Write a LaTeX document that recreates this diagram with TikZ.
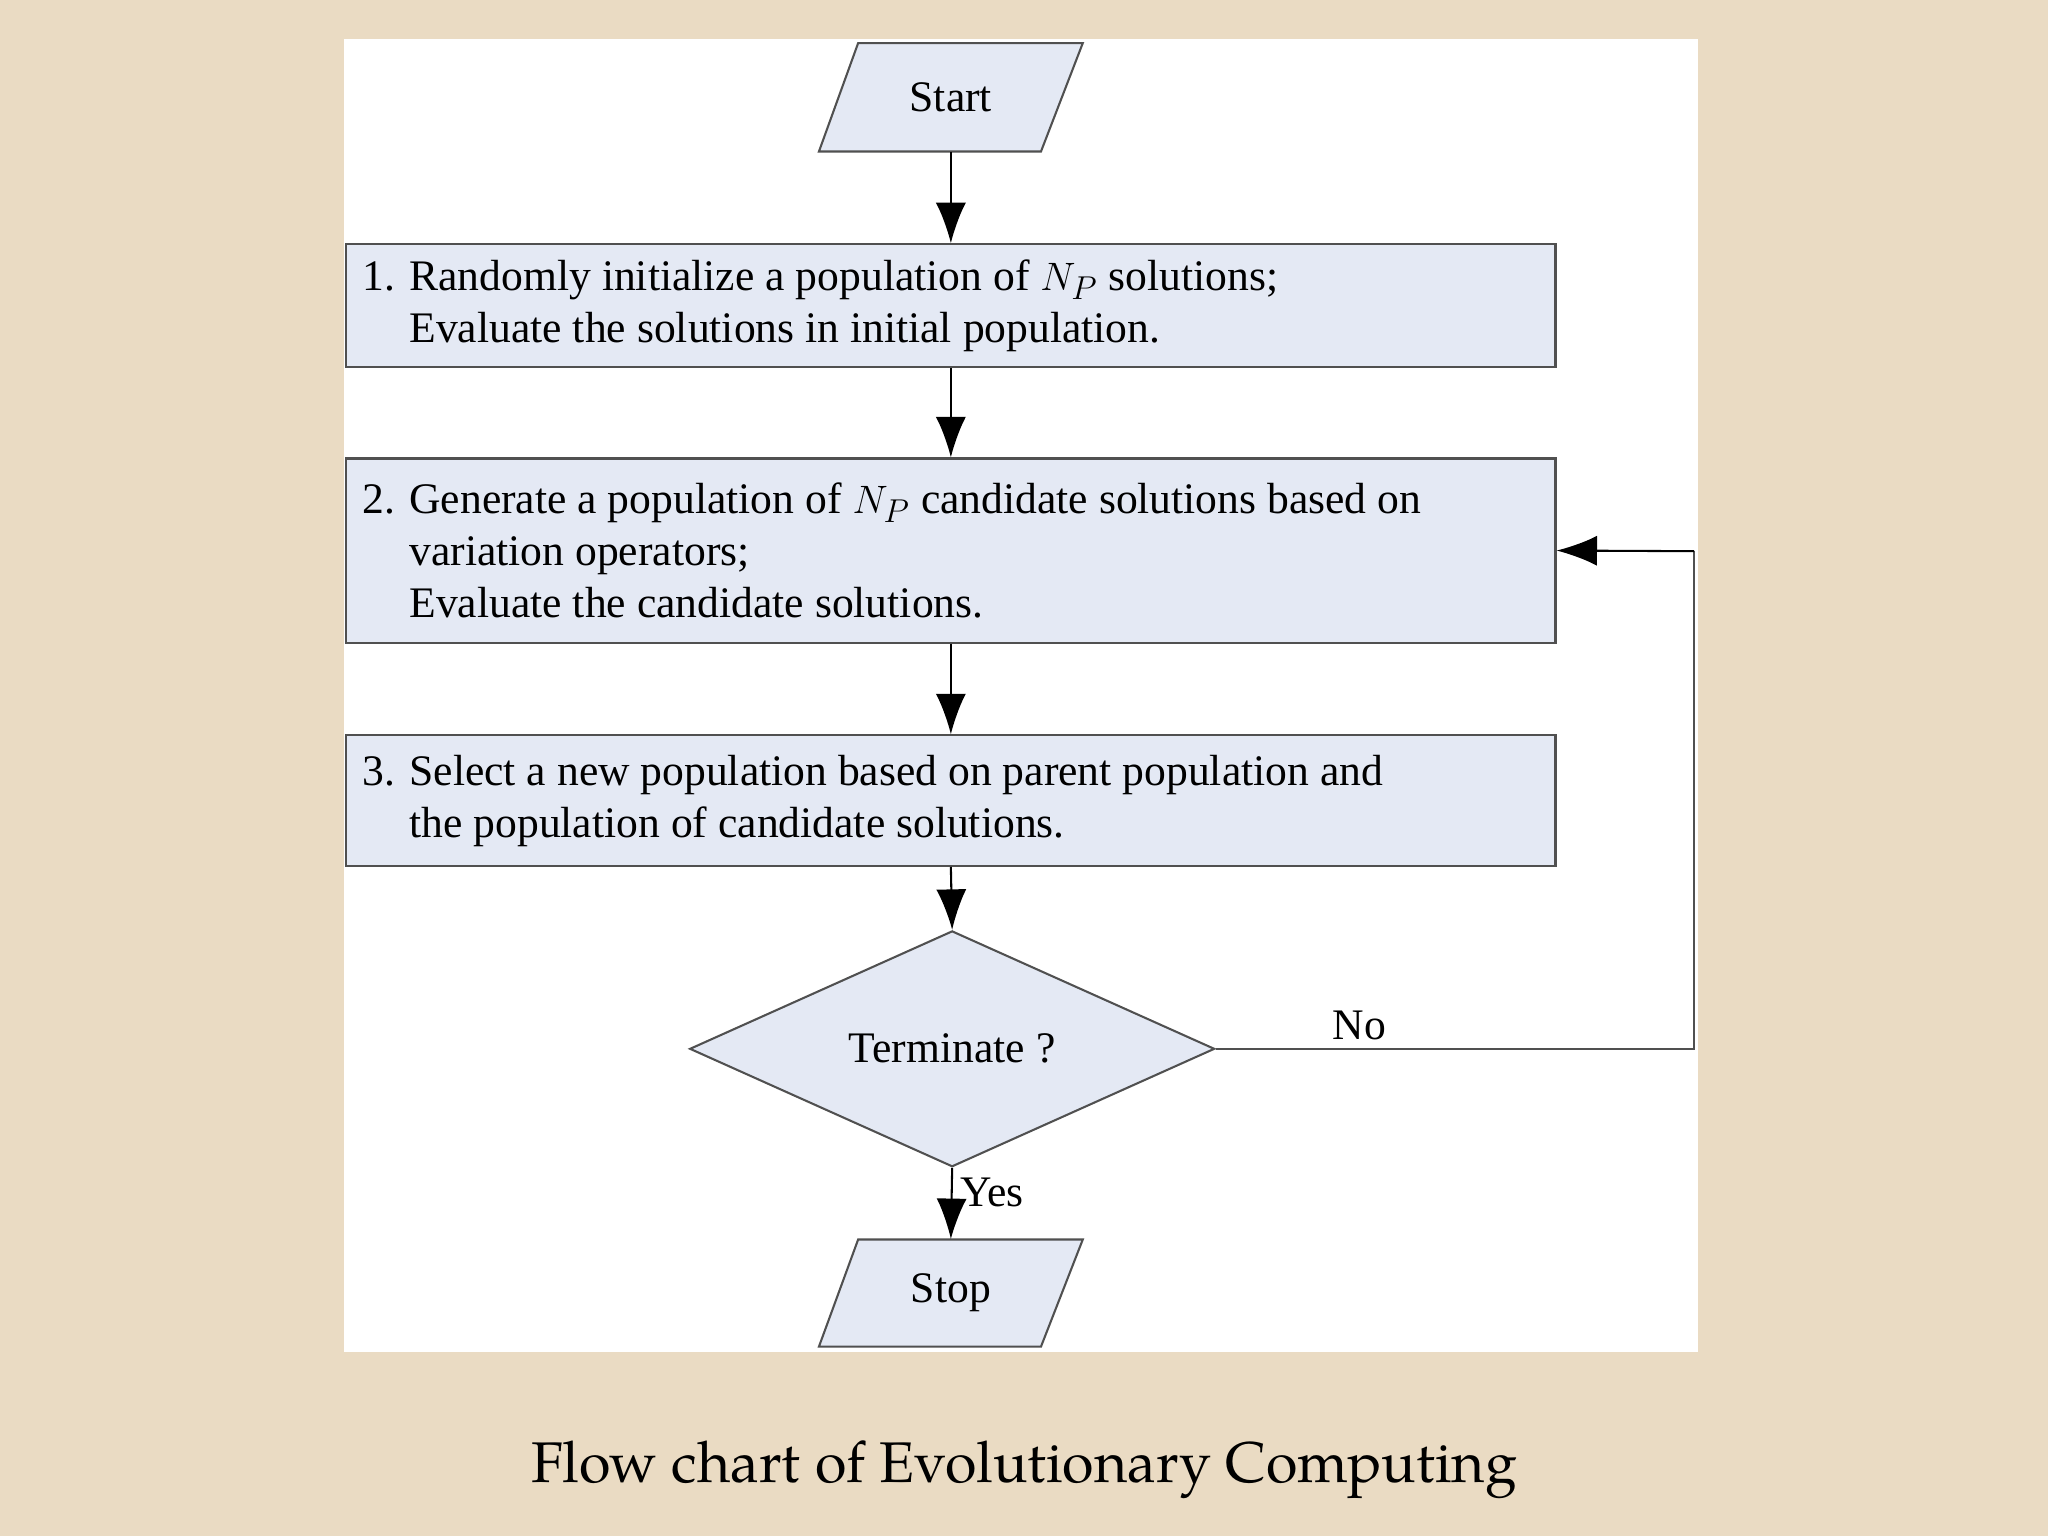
\documentclass[tikz,border=0pt]{standalone}
\usepackage{fontspec}
\setmainfont{Liberation Serif}
\newfontfamily\capfont{TeX Gyre Pagella}
\usetikzlibrary{shapes.geometric,arrows.meta}
\definecolor{bg}{HTML}{EADBC3}
\definecolor{boxfill}{HTML}{E4E9F4}
\definecolor{edge}{HTML}{505050}
\begin{document}
\begin{tikzpicture}[x=0.02cm,y=-0.02cm,
  proc/.style={draw=edge,fill=boxfill,line width=0.9pt,minimum width=18.52cm,inner sep=0},
  txt/.style={anchor=west,align=left,font=\fontsize{19}{22.7}\selectfont,inner sep=0},
  arr/.style={-{Latex[length=0.62cm,width=0.46cm]},line width=0.9pt},
  ln/.style={line width=0.9pt,draw=edge}]
\fill[bg] (0,0) rectangle (1568,1176);
\useasboundingbox (0,0) rectangle (1568,1176);
\fill[white] (263,30) rectangle (1300,1035);
% Start
\filldraw[ln,fill=boxfill] (657,33)--(829,33)--(797,116)--(627,116)--cycle;
\node[minimum height=1.66cm,inner sep=0,font=\fontsize{19}{22}\selectfont] (start) at (728,74.5) {Start};
% boxes
\node[proc,minimum height=1.88cm] (b1) at (728,234) {};
\node[txt] at (277,234) {1. Randomly initialize a population of $N_P$ solutions;\\\hphantom{1. }Evaluate the solutions in initial population.};
\node[proc,minimum height=2.82cm] (b2) at (728,421.5) {};
\node[txt] at (277,421.5) {2. Generate a population of $N_P$ candidate solutions based on\\\hphantom{2. }variation operators;\\\hphantom{2. }Evaluate the candidate solutions.};
\node[proc,minimum height=2.0cm] (b3) at (728,613) {};
\node[txt] at (277,613) {3. Select a new population based on parent population and\\\hphantom{3. }the population of candidate solutions.};
\node[diamond,draw=edge,fill=boxfill,line width=0.9pt,inner sep=0,minimum width=8.04cm,minimum height=2.78cm,font=\fontsize{19}{22}\selectfont] (d) at (729,803) {Terminate ?};
% Stop
\filldraw[ln,fill=boxfill] (657,949)--(829,949)--(797,1031)--(627,1031)--cycle;
\node[minimum height=1.64cm,inner sep=0,font=\fontsize{19}{22}\selectfont] (stop) at (728,990) {Stop};
% arrows
\draw[arr] (start.south) -- (b1.north);
\draw[arr] (b1.south) -- (b2.north);
\draw[arr] (b2.south) -- (b3.north);
\draw[arr] (b3.south) -- (d.north);
\draw[arr] (d.south) -- node[right,font=\fontsize{19}{22}\selectfont,pos=0.35]{Yes} (stop.north);
\coordinate (c1) at (1297,803);
\coordinate (c2) at (1297,422);
\draw[ln] (d.east) -- node[above,pos=0.3,font=\fontsize{19}{22}\selectfont]{No} (c1) -- (c2);
\draw[arr] (c2) -- (b2.east);
\node[font=\capfont\fontsize{25}{30}\selectfont] (cap) at (784,1125) {Flow chart of Evolutionary Computing};
\end{tikzpicture}
\end{document}
